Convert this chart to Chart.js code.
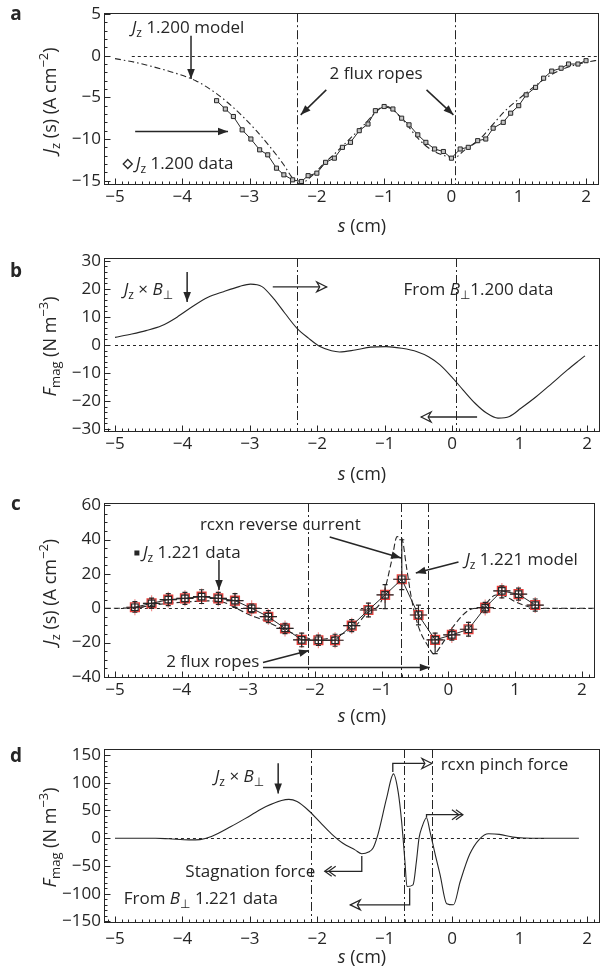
<!DOCTYPE html>
<html>
<head>
<meta charset="utf-8">
<script src="https://cdn.jsdelivr.net/npm/chart.js@4.4.1/dist/chart.umd.min.js"></script>
<style>
  html, body { margin: 0; padding: 0; background: #fff; }
  body { width: 603px; height: 978px; position: relative; overflow: hidden; }
  canvas { position: absolute; left: 0; display: block; }
</style>
</head>
<body>
<canvas id="chartA" width="603" height="244" style="top:0"></canvas>
<canvas id="chartB" width="603" height="240" style="top:244px"></canvas>
<canvas id="chartC" width="603" height="246" style="top:484px"></canvas>
<canvas id="chartD" width="603" height="248" style="top:730px"></canvas>
<script>
// ---------------- data ----------------
// shared x axis (s in cm)
const xTicks = [-5, -4, -3, -2, -1, 0, 1, 2];

// panel a : Jz 1.200 data and model
const aS = [-3.49,-3.36,-3.24,-3.11,-2.98,-2.85,-2.73,-2.60,-2.49,-2.36,-2.23,-2.13,-2.00,-1.87,-1.74,-1.62,-1.50,-1.37,-1.24,-1.13,-1.00,-0.87,-0.74,-0.63,-0.50,-0.38,-0.25,-0.12,0.00,0.13,0.25,0.39,0.51,0.62,0.77,0.88,1.00,1.11,1.25,1.37,1.49,1.63,1.74,1.88,2.00];
const aJ = [-5.4,-6.4,-7.3,-8.9,-10.0,-11.3,-11.9,-13.5,-14.3,-14.9,-15.1,-14.4,-14.1,-12.8,-12.3,-11.0,-10.4,-9.0,-8.2,-6.6,-6.1,-6.4,-7.5,-8.3,-9.5,-10.4,-11.2,-11.5,-12.3,-11.2,-11.0,-10.2,-10.0,-8.7,-8.0,-6.9,-6.0,-4.7,-3.8,-2.7,-1.85,-1.5,-1.0,-1.0,-0.6];
const aModelS = [-5.0,-4.7,-4.4,-4.1,-3.8,-3.5,-3.3,-3.1,-2.9,-2.7,-2.5,-2.35,-2.25,-2.1,-1.9,-1.7,-1.5,-1.3,-1.1,-1.0,-0.9,-0.7,-0.5,-0.3,-0.1,0.05,0.2,0.4,0.6,0.8,1.0,1.2,1.4,1.6,1.8,2.0,2.2];
const aModelJ = [-0.35,-0.8,-1.4,-2.1,-3.0,-4.5,-5.8,-7.3,-9.0,-10.9,-13.0,-14.8,-15.4,-14.6,-13.0,-11.5,-9.9,-8.3,-6.6,-6.0,-6.3,-7.9,-9.9,-11.3,-12.0,-12.2,-11.3,-10.2,-8.4,-6.6,-5.2,-3.9,-2.7,-1.8,-1.2,-0.8,-0.5];
const aTicks = [-15, -10, -5, 0, 5];
const aLines = [-2.3, 0.06];

// panel b : Fmag from B_perp 1.200
const bS = [-5.0,-4.75,-4.54,-4.31,-4.08,-3.85,-3.62,-3.39,-3.16,-2.99,-2.82,-2.65,-2.48,-2.30,-2.13,-1.96,-1.79,-1.67,-1.44,-1.21,-0.98,-0.75,-0.52,-0.35,-0.18,-0.01,0.16,0.34,0.51,0.68,0.85,1.02,1.25,1.48,1.71,1.88,1.97];
const bF = [2.7,3.9,5.1,6.8,9.9,13.7,17.0,19.0,20.8,21.7,20.8,16.6,11.3,5.9,2.4,-0.6,-2.1,-2.5,-1.8,-0.8,-0.6,-1.2,-2.4,-4.2,-7.1,-11.3,-16.0,-20.8,-24.3,-26.1,-25.5,-22.6,-18.4,-13.7,-8.9,-5.6,-3.9];
const bTicks = [-30, -20, -10, 0, 10, 20, 30];
const bLines = [-2.3, 0.06];

// panel c : Jz 1.221 data (with error bars) and model
const cS = [-4.70,-4.45,-4.20,-3.95,-3.70,-3.45,-3.20,-2.95,-2.70,-2.45,-2.20,-1.95,-1.70,-1.45,-1.20,-0.95,-0.70,-0.45,-0.20,0.05,0.30,0.55,0.80,1.05,1.30];
const cJ = [0.6,2.9,5.0,5.8,6.8,5.8,4.5,0.0,-4.9,-11.7,-18.4,-18.6,-18.6,-10.1,-1.0,7.8,16.9,-3.9,-18.4,-15.5,-12.2,0.4,10.1,8.2,1.9];
const cErrHi = [3.3,3,3.5,3.5,4,3.5,4,2.5,3.5,3,4,3,3.5,3.5,4,6,23,5.8,4,3,4,3,3,3.5,3.5];
const cErrLo = [2.9,3,3.5,3.5,4,3.5,4,2.5,3.5,3,4,3,3.5,3.5,4,8,6,5.8,8,3,4,3,4,3.5,3.5];
const cErrS = 0.13;
const cModelS = [-5.15,-4.7,-4.4,-4.1,-3.8,-3.6,-3.4,-3.2,-3.0,-2.8,-2.6,-2.4,-2.2,-2.0,-1.8,-1.6,-1.4,-1.22,-1.0,-0.85,-0.77,-0.70,-0.63,-0.55,-0.45,-0.30,-0.22,-0.10,0.07,0.31,0.51,0.71,0.85,1.0,1.2,1.4,2.2];
const cModelJ = [0,0.3,2.0,3.2,4.0,4.3,3.8,0.5,-3.5,-6.5,-10,-13.5,-16.5,-18,-17.5,-15,-10.5,-2.7,4.8,28,41.7,40.8,24.2,4.8,-10.7,-22.4,-26.5,-21,-10.7,-1,0.9,7.7,7,3.9,0.9,0,0];
const cTicks = [-40, -20, 0, 20, 40, 60];
const cLines = [-2.1, -0.71, -0.3];

// panel d : Fmag from B_perp 1.221
const dS = [-5.0,-4.4,-4.2,-3.9,-3.74,-3.57,-3.28,-2.99,-2.76,-2.53,-2.42,-2.30,-2.13,-1.96,-1.79,-1.62,-1.44,-1.34,-1.24,-1.17,-1.10,-0.97,-0.87,-0.80,-0.75,-0.70,-0.67,-0.58,-0.53,-0.49,-0.45,-0.38,-0.33,-0.25,-0.18,-0.08,0.02,0.12,0.26,0.41,0.54,0.70,0.90,1.06,1.35,1.88];
const dF = [0,0,-1,-3,-2.5,3,21,41,57,68,70,66,50,29,8,-9,-21,-28,-25,-17,7,73,116,83,31,-42,-87,-84,-42,1,19,37,13,-30,-65,-118,-120,-78,-29,-1,8,7,2,0.5,0,0];
const dTicks = [-150, -100, -50, 0, 50, 100, 150];
const dLines = [-2.1, -0.71, -0.3];

// ---------------- style ----------------
const FAMILY = '"Open Sans", "Noto Sans", "DejaVu Sans", sans-serif';
const ink = '#262626';
const red = '#e8403c';
const xMin = -5.163, xMax = 2.178;
const NOTE = 17, TITLE = 18;

const pts = (xs, ys) => xs.map((x, i) => ({ x: x, y: ys[i] }));
const fmt = v => v < 0 ? '\u2212' + (-v) : String(v);

// simple rich text: <i>, <sub>, <sup>
function parseRich(str) {
  const out = [];
  const re = /<(i|sub|sup)>(.*?)<\/\1>|([^<]+)/g;
  let m;
  while ((m = re.exec(str))) {
    if (m[3]) out.push({ t: m[3], k: '' });
    else out.push({ t: m[2], k: m[1] });
  }
  return out;
}
function drawRich(ctx, str, x, y, size, align) {
  const segs = parseRich(str);
  const fontFor = k => (k === 'i' ? 'italic ' : '') + ((k === 'sub' || k === 'sup') ? Math.round(size * 0.72) : size) + 'px ' + FAMILY;
  let w = 0;
  segs.forEach(s => { ctx.font = fontFor(s.k); s.w = ctx.measureText(s.t).width; w += s.w; });
  let cx = align === 'center' ? x - w / 2 : align === 'right' ? x - w : x;
  ctx.textAlign = 'left';
  ctx.textBaseline = 'middle';
  segs.forEach(s => {
    ctx.font = fontFor(s.k);
    const dy = s.k === 'sub' ? size * 0.32 : s.k === 'sup' ? -size * 0.38 : 0;
    ctx.fillText(s.t, cx, y + dy);
    cx += s.w;
  });
}

function drawArrow(ctx, p, head) {
  ctx.setLineDash([]);
  ctx.lineWidth = head === 'solid' ? 1.5 : 1.3;
  ctx.beginPath();
  ctx.moveTo(p[0][0], p[0][1]);
  for (let i = 1; i < p.length; i++) ctx.lineTo(p[i][0], p[i][1]);
  ctx.stroke();
  const [x1, y1] = p[p.length - 2], [x2, y2] = p[p.length - 1];
  const a = Math.atan2(y2 - y1, x2 - x1);
  const at = (d, off) => [x2 - d * Math.cos(a) - off * Math.sin(a), y2 - d * Math.sin(a) + off * Math.cos(a)];
  ctx.lineWidth = 1.2;
  if (head === 'solid') {
    const b1 = at(10, 3.8), b2 = at(10, -3.8);
    ctx.beginPath(); ctx.moveTo(x2, y2); ctx.lineTo(b1[0], b1[1]); ctx.lineTo(b2[0], b2[1]); ctx.closePath();
    ctx.fill();
  } else if (head === 'open') {
    const b1 = at(10, 5), b2 = at(10, -5), m = at(7, 0);
    ctx.beginPath(); ctx.moveTo(x2, y2); ctx.lineTo(b1[0], b1[1]); ctx.lineTo(m[0], m[1]); ctx.lineTo(b2[0], b2[1]); ctx.closePath();
    ctx.fillStyle = '#fff'; ctx.fill(); ctx.fillStyle = ink;
    ctx.stroke();
  } else if (head === 'double') {
    [0, 4].forEach(d => {
      const t = at(d, 0), b1 = at(d + 7, 5), b2 = at(d + 7, -5);
      ctx.beginPath(); ctx.moveTo(b1[0], b1[1]); ctx.lineTo(t[0], t[1]); ctx.lineTo(b2[0], b2[1]); ctx.stroke();
    });
  }
}

// frame, ticks, reference lines, titles and notes
const decor = {
  id: 'decor',
  beforeDatasetsDraw(chart, args, o) {
    const { ctx, chartArea: ca, scales: { x, y } } = chart;
    ctx.save();
    ctx.beginPath(); ctx.rect(ca.left, ca.top, ca.right - ca.left, ca.bottom - ca.top); ctx.clip();
    ctx.strokeStyle = ink; ctx.lineWidth = 1;
    if (o.zero) {
      const py = Math.round(y.getPixelForValue(0)) + 0.5;
      ctx.setLineDash([3, 3]);
      ctx.beginPath(); ctx.moveTo(x.getPixelForValue(o.zero[0]), py); ctx.lineTo(x.getPixelForValue(o.zero[1]), py); ctx.stroke();
    }
    ctx.setLineDash([9, 3, 2, 3]);
    o.lines.forEach(s => {
      const px = Math.round(x.getPixelForValue(s)) + 0.5;
      ctx.beginPath(); ctx.moveTo(px, ca.top); ctx.lineTo(px, ca.bottom); ctx.stroke();
    });
    ctx.restore();
  },
  afterDraw(chart, args, o) {
    const { ctx, chartArea: ca, scales: { x, y } } = chart;
    ctx.save();
    ctx.strokeStyle = ink; ctx.fillStyle = ink; ctx.lineWidth = 1; ctx.setLineDash([]);
    // frame
    ctx.strokeRect(Math.round(ca.left) + 0.5, Math.round(ca.top) + 0.5, Math.round(ca.right - ca.left), Math.round(ca.bottom - ca.top));
    // x ticks (inward)
    const bot = Math.round(ca.bottom) + 0.5;
    for (let k = -52; k <= 22; k++) {
      const s = k / 10;
      if (s < xMin || s > xMax) continue;
      const px = Math.round(x.getPixelForValue(s)) + 0.5;
      const len = k % 10 === 0 ? 6 : 3;
      ctx.beginPath(); ctx.moveTo(px, bot); ctx.lineTo(px, bot - len); ctx.stroke();
    }
    // y ticks (inward)
    const lft = Math.round(ca.left) + 0.5;
    for (let v = o.yTicks[0] - o.minor * 10; v <= o.yTicks[o.yTicks.length - 1] + o.minor * 10; v += o.minor) {
      if (v < y.min || v > y.max) continue;
      const py = Math.round(y.getPixelForValue(v)) + 0.5;
      const len = o.yTicks.includes(v) ? 6 : 3;
      ctx.beginPath(); ctx.moveTo(lft, py); ctx.lineTo(lft + len, py); ctx.stroke();
    }
    // axis titles
    drawRich(ctx, '<i>s</i> (cm)', 362, o.xTitleY, TITLE, 'center');
    ctx.save();
    ctx.translate(51, (ca.top + ca.bottom) / 2 + 2);
    ctx.rotate(-Math.PI / 2);
    drawRich(ctx, o.yTitle, 0, 0, TITLE, 'center');
    ctx.restore();
    // panel letter
    ctx.font = 'bold 19px ' + FAMILY;
    ctx.textAlign = 'center'; ctx.textBaseline = 'middle';
    ctx.fillText(o.letter, 16, o.letterY);
    // notes
    (o.notes || []).forEach(n => {
      const px = x.getPixelForValue(n.s), py = y.getPixelForValue(n.v);
      if (n.mark === 'diamond') {
        ctx.lineWidth = 1.3;
        ctx.beginPath(); ctx.moveTo(px, py - 4.5); ctx.lineTo(px + 4.5, py); ctx.lineTo(px, py + 4.5); ctx.lineTo(px - 4.5, py); ctx.closePath(); ctx.stroke();
      } else if (n.mark === 'square') {
        ctx.fillRect(px - 2.5, py - 2.5, 5, 5);
      } else {
        drawRich(ctx, n.text, px, py, NOTE, n.align || 'left');
      }
    });
    (o.arrows || []).forEach(a => {
      drawArrow(ctx, a.pts.map(q => [x.getPixelForValue(q[0]), y.getPixelForValue(q[1])]), a.head);
    });
    ctx.restore();
  }
};

// error bars for panel c
const errBars = {
  id: 'errBars',
  afterDatasetsDraw(chart, args, o) {
    if (!o.on) return;
    const { ctx, scales: { x, y } } = chart;
    ctx.save();
    ctx.strokeStyle = ink; ctx.lineWidth = 1.2;
    cS.forEach((s, i) => {
      const px = x.getPixelForValue(s), py = y.getPixelForValue(cJ[i]);
      const hi = y.getPixelForValue(cJ[i] + cErrHi[i]), lo = y.getPixelForValue(cJ[i] - cErrLo[i]);
      const l = x.getPixelForValue(s - cErrS), r = x.getPixelForValue(s + cErrS);
      ctx.beginPath();
      ctx.moveTo(px, hi); ctx.lineTo(px, lo);
      ctx.moveTo(px - 2.5, hi); ctx.lineTo(px + 2.5, hi);
      ctx.moveTo(px - 2.5, lo); ctx.lineTo(px + 2.5, lo);
      ctx.moveTo(l, py); ctx.lineTo(r, py);
      ctx.stroke();
    });
    ctx.restore();
  }
};

const tickFont = { family: FAMILY, size: 17 };

function makePanel(id, cfg) {
  return new Chart(document.getElementById(id), {
    type: 'scatter',
    data: { datasets: cfg.datasets },
    options: {
      responsive: false,
      animation: false,
      events: [],
      layout: { padding: { top: cfg.padTop, right: 4, left: 0, bottom: 0 } },
      plugins: {
        legend: { display: false },
        tooltip: { enabled: false },
        decor: cfg.decor,
        errBars: { on: !!cfg.errBars }
      },
      scales: {
        x: {
          type: 'linear', min: xMin, max: xMax,
          grid: { display: false, drawTicks: false }, border: { display: false },
          afterBuildTicks: s => { s.ticks = xTicks.map(v => ({ value: v })); },
          afterFit: s => { s.height = cfg.xAxisH; },
          ticks: { font: tickFont, color: ink, padding: cfg.xPad, callback: fmt, maxRotation: 0, autoSkip: false }
        },
        y: {
          type: 'linear', min: cfg.yMin, max: cfg.yMax,
          grid: { display: false, drawTicks: false }, border: { display: false },
          afterBuildTicks: s => { s.ticks = cfg.yTicks.map(v => ({ value: v })); },
          afterFit: s => { s.width = 104; },
          ticks: { font: tickFont, color: ink, padding: 3, callback: fmt, autoSkip: false }
        }
      }
    },
    plugins: [decor, errBars]
  });
}

const jTitle = '<i>J</i><sub>z</sub> (s) (A cm<sup>\u22122</sup>)';
const fTitle = '<i>F</i><sub>mag</sub> (N m<sup>\u22123</sup>)';
const jxb = '<i>J</i><sub>z</sub> \u00d7 <i>B</i><sub>\u22a5</sub>';

// ---------------- a ----------------
makePanel('chartA', {
  padTop: 10, xAxisH: 60, xPad: 3, yMin: -15.4, yMax: 5.1, yTicks: aTicks,
  datasets: [
    { data: pts(aS, aJ), showLine: true, borderColor: ink, borderWidth: 1, pointStyle: 'rect', pointRadius: 2.9,
      pointBorderWidth: 1, pointBorderColor: ink, pointBackgroundColor: '#c4c4c4' },
    { data: pts(aModelS, aModelJ), showLine: true, borderColor: ink, borderWidth: 1.1, borderDash: [6, 3, 1.5, 3],
      pointRadius: 0, cubicInterpolationMode: 'monotone' }
  ],
  decor: {
    zero: [-4.75, xMax], lines: aLines, yTicks: aTicks, minor: 1,
    yTitle: jTitle, xTitleY: 227, letter: 'a', letterY: 15,
    notes: [
      { text: '<i>J</i><sub>z</sub> 1.200 model', s: -4.75, v: 3.3 },
      { mark: 'diamond', s: -4.81, v: -13.0 },
      { text: '<i>J</i><sub>z</sub> 1.200 data', s: -4.69, v: -13.0 },
      { text: '2 flux ropes', s: -1.12, v: -2.2, align: 'center' }
    ],
    arrows: [
      { pts: [[-3.87, 2.4], [-3.87, -2.8]], head: 'solid' },
      { pts: [[-4.70, -9.1], [-3.32, -9.1]], head: 'solid' },
      { pts: [[-1.86, -4.1], [-2.24, -7.1]], head: 'solid' },
      { pts: [[-0.37, -4.1], [0.03, -7.1]], head: 'solid' }
    ]
  }
});

// ---------------- b ----------------
makePanel('chartB', {
  padTop: 14, xAxisH: 53, xPad: 3, yMin: -30.7, yMax: 31, yTicks: bTicks,
  datasets: [
    { data: pts(bS, bF), showLine: true, borderColor: ink, borderWidth: 1.1, pointRadius: 0, cubicInterpolationMode: 'monotone' }
  ],
  decor: {
    zero: [-5, xMax], lines: bLines, yTicks: bTicks, minor: 2,
    yTitle: fTitle, xTitleY: 231, letter: 'b', letterY: 28,
    notes: [
      { text: jxb, s: -4.87, v: 19.6 },
      { text: 'From <i>B</i><sub>\u22a5</sub>1.200 data', s: -0.72, v: 19.6 }
    ],
    arrows: [
      { pts: [[-3.93, 26.0], [-3.93, 15.3]], head: 'solid' },
      { pts: [[-2.66, 20.7], [-1.86, 20.7]], head: 'open' },
      { pts: [[0.37, -25.7], [-0.46, -25.7]], head: 'open' }
    ]
  }
});

// ---------------- c ----------------
makePanel('chartC', {
  padTop: 19, xAxisH: 53, xPad: 3, yMin: -40, yMax: 61.3, yTicks: cTicks, errBars: true,
  datasets: [
    { data: pts(cS, cJ), showLine: true, borderColor: ink, borderWidth: 1, pointStyle: 'rect', pointRadius: 4.6,
      pointBorderWidth: 1.2, pointBorderColor: ink, pointBackgroundColor: 'rgba(0,0,0,0)' },
    { data: pts(cS, cJ), showLine: false, pointStyle: 'rect', pointRadius: 6.2,
      pointBorderWidth: 1.4, pointBorderColor: red, pointBackgroundColor: 'rgba(0,0,0,0)' },
    { data: pts(cS, cJ), showLine: false, pointStyle: 'cross', pointRadius: 8,
      pointBorderWidth: 1.2, pointBorderColor: 'rgba(232,64,60,0.6)' },
    { data: pts(cModelS, cModelJ), showLine: true, borderColor: ink, borderWidth: 1.1, borderDash: [6, 3],
      pointRadius: 0, cubicInterpolationMode: 'monotone' }
  ],
  decor: {
    zero: [-5, xMax], lines: cLines, yTicks: cTicks, minor: 5,
    yTitle: jTitle, xTitleY: 233, letter: 'c', letterY: 21,
    notes: [
      { text: 'rcxn reverse current', s: -2.52, v: 48.5, align: 'center' },
      { mark: 'square', s: -4.67, v: 32.2 },
      { text: '<i>J</i><sub>z</sub> 1.221 data', s: -4.58, v: 32.2 },
      { text: '<i>J</i><sub>z</sub> 1.221 model', s: 0.25, v: 28.1 },
      { text: '2 flux ropes', s: -4.23, v: -31.1 }
    ],
    arrows: [
      { pts: [[-1.78, 41.5], [-0.71, 29.3]], head: 'solid' },
      { pts: [[-3.44, 28.1], [-3.44, 10.7]], head: 'solid' },
      { pts: [[0.15, 27.0], [-0.49, 20.6]], head: 'solid' },
      { pts: [[-2.78, -31.6], [-2.09, -24.6]], head: 'solid' },
      { pts: [[-2.78, -34.5], [-0.28, -34.5]], head: 'solid' }
    ]
  }
});

// ---------------- d ----------------
makePanel('chartD', {
  padTop: 19, xAxisH: 56, xPad: 7, yMin: -151, yMax: 160.8, yTicks: dTicks,
  datasets: [
    { data: pts(dS, dF), showLine: true, borderColor: ink, borderWidth: 1.1, pointRadius: 0, cubicInterpolationMode: 'monotone' }
  ],
  decor: {
    zero: [-4.2, 1.4], lines: dLines, yTicks: dTicks, minor: 10,
    yTitle: fTitle, xTitleY: 228, letter: 'd', letterY: 27,
    notes: [
      { text: jxb, s: -3.52, v: 109.8 },
      { text: 'rcxn pinch force', s: -0.17, v: 131.7 },
      { text: 'Stagnation force', s: -2.03, v: -61.4, align: 'right' },
      { text: 'From <i>B</i><sub>\u22a5</sub> 1.221 data', s: -4.87, v: -110 }
    ],
    arrows: [
      { pts: [[-2.58, 135], [-2.58, 80.7]], head: 'solid' },
      { pts: [[-0.88, 119.5], [-0.88, 134.8], [-0.30, 134.8]], head: 'open' },
      { pts: [[-0.38, 37.5], [-0.38, 42.4], [0.16, 42.4]], head: 'double' },
      { pts: [[-1.34, -32.2], [-1.34, -59.6], [-1.89, -59.6]], head: 'double' },
      { pts: [[-0.63, -90], [-0.63, -120.2], [-1.51, -120.2]], head: 'open' }
    ]
  }
});
</script>
</body>
</html>
